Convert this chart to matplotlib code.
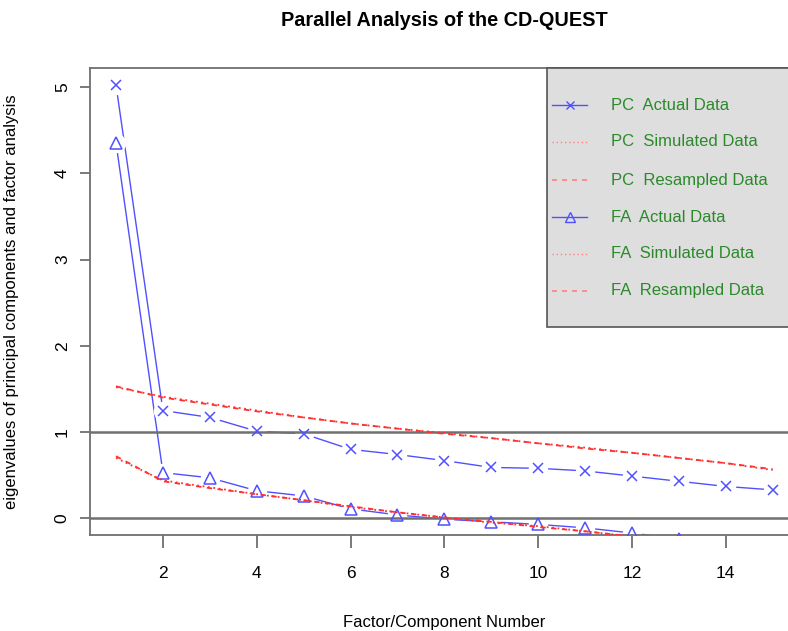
import numpy as np
import matplotlib
matplotlib.use("Agg")
import matplotlib.pyplot as plt
from matplotlib.patches import Rectangle

# eigenvalues
factors = np.arange(1, 16)
pc_actual = [5.02, 1.25, 1.17, 1.01, 0.98, 0.80, 0.74, 0.67, 0.59, 0.58, 0.55, 0.49, 0.43, 0.37, 0.33]
pc_sim = [1.52, 1.41, 1.33, 1.25, 1.17, 1.10, 1.04, 0.99, 0.93, 0.87, 0.82, 0.76, 0.70, 0.64, 0.56]
pc_resamp = [1.53, 1.40, 1.32, 1.24, 1.17, 1.10, 1.04, 0.98, 0.93, 0.87, 0.81, 0.76, 0.70, 0.64, 0.57]
fa_actual = [4.35, 0.53, 0.47, 0.32, 0.26, 0.11, 0.04, -0.01, -0.04, -0.07, -0.11, -0.17, -0.24, -0.28, -0.32]
fa_sim = [0.70, 0.44, 0.36, 0.28, 0.21, 0.13, 0.07, 0.01, -0.05, -0.09, -0.15, -0.21, -0.27, -0.32, -0.38]
fa_resamp = [0.72, 0.43, 0.35, 0.28, 0.21, 0.14, 0.07, 0.01, -0.04, -0.10, -0.15, -0.21, -0.26, -0.31, -0.37]
legend_labels = ["PC  Actual Data", "PC  Simulated Data", "PC  Resampled Data",
                 "FA  Actual Data", "FA  Simulated Data", "FA  Resampled Data"]
xticks = [2, 4, 6, 8, 10, 12, 14]
yticks = [0, 1, 2, 3, 4, 5]

plt.rcParams['font.family'] = ['Liberation Sans', 'DejaVu Sans']

blue = '#5050ff'
red = '#ff3030'
pink = '#ff8080'
grey = '#707070'
green = '#2a8a2a'

W, H = 788, 631
fig = plt.figure(figsize=(W / 100, H / 100), dpi=100)
ax = fig.add_axes([90 / W, 1 - 535 / H, 708.6 / W, 467 / H])
ax.set_xlim(0.445, 15.555)
ax.set_ylim(-0.193, 5.22)

# type="b" style: line, white gap, then marker
ax.plot(factors, pc_actual, color=blue, lw=1, zorder=2)
ax.plot(factors, fa_actual, color=blue, lw=1, zorder=2)
ax.plot(factors, pc_actual, ls='none', marker='o', ms=14, mfc='white', mec='none', zorder=2.5)
ax.plot(factors, fa_actual, ls='none', marker='o', ms=14, mfc='white', mec='none', zorder=2.5)
ax.axhline(1, color=grey, lw=1.8, zorder=3)
ax.axhline(0, color=grey, lw=1.8, zorder=3)
ax.plot(factors, pc_actual, ls='none', marker='x', ms=7, mew=1.1, color=blue, zorder=3.5)
ax.plot(factors, fa_actual, ls='none', marker='^', ms=9, mew=1.1, mfc='none', mec=blue, zorder=3.5)
ax.plot(factors, pc_sim, color=red, lw=1.3, ls=(0, (1, 2)), zorder=4)
ax.plot(factors, pc_resamp, color=red, lw=1.3, ls=(0, (3, 3)), zorder=4)
ax.plot(factors, fa_sim, color=red, lw=1.3, ls=(0, (1, 2)), zorder=4)
ax.plot(factors, fa_resamp, color=red, lw=1.3, ls=(0, (3, 3)), zorder=4)

for s in ax.spines.values():
    s.set_color(grey)
    s.set_linewidth(1.3)
ax.set_xticks(xticks)
ax.set_yticks(yticks)
ax.tick_params(axis='x', length=9.5, width=1.3, color=grey, pad=13, labelsize=12.5)
ax.tick_params(axis='y', length=7.5, width=1.3, color=grey, pad=7, labelsize=12.5)
for lab in ax.get_yticklabels():
    lab.set_rotation(90)
    lab.set_va('center')

ax.set_xlabel("Factor/Component Number", fontsize=12, va='center')
ax.xaxis.set_label_coords(0.5, (535 - 622) / 467)
ax.set_ylabel("eigenvalues of principal components and factor analysis", fontsize=12, va='center')
ax.yaxis.set_label_coords((12 - 90) / 708.6, 0.5)
ax.set_title("Parallel Analysis of the CD-QUEST", fontsize=14.3, fontweight='bold',
             y=(535 - 20) / 467, va='center', pad=0)

# legend box drawn like R's legend(): grey fill, green text
def axx(px):
    return (px - 90) / 708.6

def axy(py):
    return (535 - py) / 467

ax.add_patch(Rectangle((axx(547), axy(327)), axx(797) - axx(547), axy(68) - axy(327),
                       transform=ax.transAxes, facecolor='#dedede', edgecolor='#555555',
                       lw=1.2, zorder=5, clip_on=False))
styles = [
    dict(color=blue, lw=1, marker='x', ms=6),
    dict(color=pink, lw=1, ls=(0, (1, 2))),
    dict(color=pink, lw=1.2, ls=(0, (3, 3))),
    dict(color=blue, lw=1, marker='^', ms=7, mfc='none'),
    dict(color=pink, lw=1, ls=(0, (1, 2))),
    dict(color=pink, lw=1.2, ls=(0, (3, 3))),
]
row_y = [105, 142, 180, 217, 254, 291]
for py, lab, st in zip(row_y, legend_labels, styles):
    ax.plot([axx(552), axx(569.5), axx(587)], [axy(py)] * 3, transform=ax.transAxes,
            markevery=[1] if 'marker' in st else None, zorder=6, clip_on=False, **st)
    ax.text(axx(611), axy(py), lab, transform=ax.transAxes, fontsize=12, color=green,
            va='center', ha='left', zorder=6)

fig.savefig("out.png", dpi=100)
